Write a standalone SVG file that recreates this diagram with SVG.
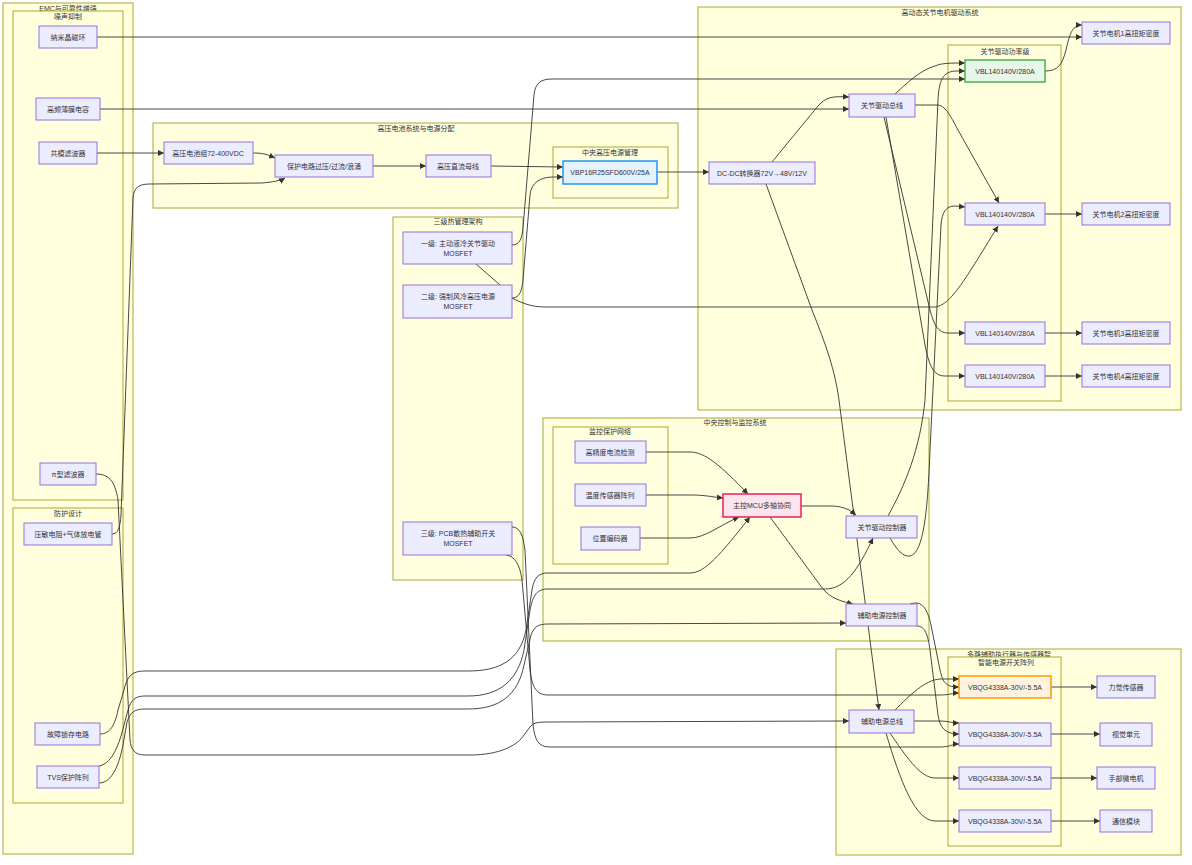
<svg xmlns="http://www.w3.org/2000/svg" width="1192" height="865" viewBox="0 0 1192 865">
<style>
.cl{fill:#ffffde;stroke:#aaaa33;stroke-width:1}
.ct{font-family:"Liberation Sans","Noto Sans CJK SC",sans-serif;font-size:7px;fill:#333;text-anchor:middle}
.n{fill:#ECECFF;stroke:#9370DB;stroke-width:1}
.t{font-family:"Liberation Sans","Noto Sans CJK SC",sans-serif;font-size:7px;fill:#333;text-anchor:middle;dominant-baseline:central}
.e{fill:none;stroke:#333;stroke-width:0.9;marker-end:url(#ah)}
.e0{fill:none;stroke:#333;stroke-width:0.9}
</style>
<defs>
<marker id="ah" markerUnits="userSpaceOnUse" markerWidth="6" markerHeight="6" refX="6" refY="3" orient="auto">
<path d="M0,0 L6,3 L0,6 z" fill="#333"/>
</marker>
</defs>
<rect width="1192" height="865" fill="#fff"/>
<g id="clusters">
<rect class="cl" x="3" y="3" width="130" height="851"/>
<text class="ct" x="68" y="10.5">EMC与可靠性增强</text>
<rect class="cl" x="13" y="11" width="110" height="489"/>
<text class="ct" x="68" y="18.5">噪声抑制</text>
<rect class="cl" x="13" y="508" width="110" height="295"/>
<text class="ct" x="68" y="515.5">防护设计</text>
<rect class="cl" x="153" y="123" width="525" height="85"/>
<text class="ct" x="416" y="130.5">高压电池系统与电源分配</text>
<rect class="cl" x="553" y="147" width="115" height="51"/>
<text class="ct" x="610" y="154.5">中央高压电源管理</text>
<rect class="cl" x="393" y="217" width="130" height="363"/>
<text class="ct" x="458" y="223.5">三级热管理架构</text>
<rect class="cl" x="698" y="7" width="483" height="403"/>
<text class="ct" x="940" y="14.5">高动态关节电机驱动系统</text>
<rect class="cl" x="948" y="45" width="113" height="356"/>
<text class="ct" x="1005" y="53.5">关节驱动功率级</text>
<rect class="cl" x="543" y="418" width="386" height="223"/>
<text class="ct" x="735" y="424.5">中央控制与监控系统</text>
<rect class="cl" x="553" y="427" width="115" height="137"/>
<text class="ct" x="610" y="433.5">监控保护网络</text>
<rect class="cl" x="836" y="649" width="345" height="206"/>
<text class="ct" x="1009" y="656.5">多路辅助执行器与传感器智</text>
<rect class="cl" x="948" y="657" width="113" height="189"/>
<text class="ct" x="1006" y="664.5">智能电源开关阵列</text>
</g>
<g id="connectors">
<path class="e" d="M97,37 H1082"/>
<path class="e" d="M100,109 H849"/>
<path class="e" d="M97,153 H164"/>
<path class="e" d="M253,153 C265,153 268,155 275,158"/>
<path class="e" d="M112,534 C118,534 120,528 121,515 L133,198 C134,188 138,184 150,184 L262,183 C272,182 280,181 285,178"/>
<path class="e" d="M373,166 H426"/>
<path class="e" d="M491,166 L563,167"/>
<path class="e" d="M512,298 C520,298 522,290 523,280 L530,195 C531,183 540,177 553,177 L563,177"/>
<path class="e" d="M512,245 C520,245 522,238 523,228 L534,95 C535,84 540,79 552,79 L965,79"/>
<path class="e" d="M512,298 C520,302 530,307 545,307 L935,307 C950,305 962,285 998,226"/>
<path class="e0" d="M476,264 L500,285"/>
<path class="e" d="M657,172 H709"/>
<path class="e" d="M772,162 L818,106 C826,97 832,96 849,97"/>
<path class="e" d="M766,184 L812,310 C826,345 835,370 839,400 L879,710"/>
<path class="e" d="M895,94 C905,85 920,70 935,66 C942,63 950,63 965,63"/>
<path class="e" d="M915,105 H937 C945,105 950,115 958,130 L999,203"/>
<path class="e" d="M884,117 L930,310 C934,325 938,333 948,333 L965,333"/>
<path class="e" d="M886,117 L925,345 C929,365 933,376 945,376 L965,376"/>
<path class="e" d="M888,516 C905,485 920,450 925,400 L938,100 C939,80 943,72 955,71 L965,71"/>
<path class="e" d="M890,538 C897,550 903,557 910,556 C925,553 928,500 930,450 L941,225 C942,212 946,206 955,206 L965,207"/>
<path class="e" d="M1045,71 C1058,71 1062,65 1066,50 C1070,32 1073,25 1082,25"/>
<path class="e" d="M1045,214 H1082"/>
<path class="e" d="M1045,333 H1082"/>
<path class="e" d="M1045,376 H1082"/>
<path class="e" d="M646,452 H690 C705,452 720,465 748,494"/>
<path class="e" d="M646,495 H692 C705,495 712,497 723,498"/>
<path class="e" d="M640,538 H690 C705,538 720,525 739,517"/>
<path class="e" d="M100,734 C110,734 115,725 118,710 L124,690 C127,676 132,671 145,671 L468,671 C500,671 520,660 526,630 L532,590 C534,578 538,573 548,573 L690,573 C705,573 720,555 750,517"/>
<path class="e" d="M99,766 C110,764 118,750 124,725 L128,710 C131,700 135,696 145,696 L468,696 C500,696 518,680 524,650 L530,610 C533,595 537,589 548,589 L825,589 C845,589 858,570 873,538"/>
<path class="e" d="M99,783 C110,783 118,770 123,745 L127,722 C130,712 135,709 145,709 L468,709 C500,709 518,695 524,665 L531,635 C534,627 538,624 548,624 L846,623"/>
<path class="e" d="M96,474 C108,474 115,480 118,500 L130,740 C131,750 135,755 145,755 L470,755 C500,755 518,745 524,735 L530,727 C533,723 537,722 548,722 L849,721"/>
<path class="e" d="M506,555 C515,556 520,565 522,580 L530,670 C532,688 537,695 548,695 L940,695 C950,695 952,693 959,693"/>
<path class="e" d="M512,527 C520,527 523,535 525,550 L533,725 C535,740 538,747 550,747 L940,747 C950,747 952,744 959,744"/>
<path class="e" d="M801,506 H830 C840,506 848,508 856,515"/>
<path class="e" d="M770,517 L820,585 C828,596 835,600 853,604"/>
<path class="e" d="M910,604 C922,600 928,608 932,630 L940,670 C943,684 947,687 959,687"/>
<path class="e" d="M917,626 C925,626 928,635 930,650 L938,715 C940,728 945,734 959,734"/>
<path class="e" d="M895,710 C910,695 925,680 940,679 L959,679"/>
<path class="e" d="M914,721 L940,721 C948,721 952,723 959,723"/>
<path class="e" d="M890,733 C905,755 920,778 935,778 L959,778"/>
<path class="e" d="M886,733 C900,780 915,821 935,821 L959,821"/>
<path class="e" d="M1051,687 H1097"/>
<path class="e" d="M1051,734 H1100"/>
<path class="e" d="M1051,778 H1097"/>
<path class="e" d="M1051,821 H1100"/>
</g>
<g id="n-nano"><rect class="n" x="39" y="26" width="58" height="22"/><text class="t" x="68" y="37">纳米晶磁环</text></g>
<g id="n-cap"><rect class="n" x="36" y="98" width="64" height="22"/><text class="t" x="68" y="109">高频薄膜电容</text></g>
<g id="n-cm"><rect class="n" x="39" y="142" width="58" height="22"/><text class="t" x="68" y="153">共模滤波器</text></g>
<g id="n-pi"><rect class="n" x="40" y="463" width="56" height="22"/><text class="t" x="68" y="474">π型滤波器</text></g>
<g id="n-mov"><rect class="n" x="24" y="523" width="88" height="22"/><text class="t" x="68" y="534">压敏电阻+气体放电管</text></g>
<g id="n-latch"><rect class="n" x="35" y="723" width="65" height="22"/><text class="t" x="68" y="734">故障锁存电路</text></g>
<g id="n-tvs"><rect class="n" x="37" y="766" width="62" height="22"/><text class="t" x="68" y="777">TVS保护阵列</text></g>
<g id="n-bat"><rect class="n" x="164" y="142" width="89" height="22"/><text class="t" x="208" y="153">高压电池组72-400VDC</text></g>
<g id="n-prot"><rect class="n" x="275" y="155" width="98" height="22"/><text class="t" x="324" y="166">保护电路过压/过流/浪涌</text></g>
<g id="n-dcbus"><rect class="n" x="426" y="155" width="65" height="22"/><text class="t" x="458" y="166">高压直流母线</text></g>
<g id="n-vbp"><rect x="563" y="161" width="94" height="23" fill="#e3f2fd" stroke="#2196f3" stroke-width="1.5"/><text class="t" x="610" y="172.5">VBP16R25SFD600V/25A</text></g>
<g id="n-l1"><rect class="n" x="403" y="232" width="109" height="32"/><text class="t" x="458" y="243">一级: 主动液冷关节驱动</text><text class="t" x="458" y="253">MOSFET</text></g>
<g id="n-l2"><rect class="n" x="403" y="285" width="109" height="33"/><text class="t" x="458" y="296">二级: 强制风冷高压电源</text><text class="t" x="458" y="306">MOSFET</text></g>
<g id="n-l3"><rect class="n" x="403" y="522" width="109" height="33"/><text class="t" x="458" y="533">三级: PCB散热辅助开关</text><text class="t" x="458" y="543">MOSFET</text></g>
<g id="n-dcdc"><rect class="n" x="709" y="162" width="106" height="22"/><text class="t" x="762" y="173">DC-DC转换器72V→48V/12V</text></g>
<g id="n-jbus"><rect class="n" x="849" y="94" width="66" height="23"/><text class="t" x="882" y="105.5">关节驱动总线</text></g>
<g id="n-vbl1"><rect x="965" y="60" width="80" height="22" fill="#e8f5e9" stroke="#4caf50" stroke-width="1.5"/><text class="t" x="1005" y="71">VBL140140V/280A</text></g>
<g id="n-vbl2"><rect class="n" x="965" y="203" width="80" height="22"/><text class="t" x="1005" y="214">VBL140140V/280A</text></g>
<g id="n-vbl3"><rect class="n" x="965" y="322" width="80" height="22"/><text class="t" x="1005" y="333">VBL140140V/280A</text></g>
<g id="n-vbl4"><rect class="n" x="965" y="365" width="80" height="22"/><text class="t" x="1005" y="376">VBL140140V/280A</text></g>
<g id="n-m1"><rect class="n" x="1082" y="22" width="88" height="22"/><text class="t" x="1126" y="33">关节电机1高扭矩密度</text></g>
<g id="n-m2"><rect class="n" x="1082" y="203" width="88" height="22"/><text class="t" x="1126" y="214">关节电机2高扭矩密度</text></g>
<g id="n-m3"><rect class="n" x="1082" y="322" width="88" height="22"/><text class="t" x="1126" y="333">关节电机3高扭矩密度</text></g>
<g id="n-m4"><rect class="n" x="1082" y="365" width="88" height="22"/><text class="t" x="1126" y="376">关节电机4高扭矩密度</text></g>
<g id="n-cur"><rect class="n" x="575" y="441" width="71" height="22"/><text class="t" x="610" y="452">高精度电流检测</text></g>
<g id="n-temp"><rect class="n" x="575" y="484" width="71" height="22"/><text class="t" x="610" y="495">温度传感器阵列</text></g>
<g id="n-enc"><rect class="n" x="581" y="527" width="59" height="23"/><text class="t" x="610" y="538.5">位置编码器</text></g>
<g id="n-mcu"><rect x="723" y="494" width="78" height="23" fill="#fce4ec" stroke="#e91e63" stroke-width="1.5"/><text class="t" x="762" y="505.5">主控MCU多轴协同</text></g>
<g id="n-jctl"><rect class="n" x="846" y="516" width="71" height="22"/><text class="t" x="882" y="527">关节驱动控制器</text></g>
<g id="n-actl"><rect class="n" x="846" y="604" width="71" height="22"/><text class="t" x="882" y="615">辅助电源控制器</text></g>
<g id="n-abus"><rect class="n" x="849" y="710" width="65" height="23"/><text class="t" x="882" y="721.5">辅助电源总线</text></g>
<g id="n-q1"><rect x="959" y="676" width="92" height="22" fill="#fff3e0" stroke="#ff9800" stroke-width="1.5"/><text class="t" x="1005" y="687">VBQG4338A-30V/-5.5A</text></g>
<g id="n-q2"><rect class="n" x="959" y="723" width="92" height="23"/><text class="t" x="1005" y="734.5">VBQG4338A-30V/-5.5A</text></g>
<g id="n-q3"><rect class="n" x="959" y="767" width="92" height="22"/><text class="t" x="1005" y="778">VBQG4338A-30V/-5.5A</text></g>
<g id="n-q4"><rect class="n" x="959" y="810" width="92" height="22"/><text class="t" x="1005" y="821">VBQG4338A-30V/-5.5A</text></g>
<g id="n-force"><rect class="n" x="1097" y="676" width="58" height="22"/><text class="t" x="1126" y="687">力觉传感器</text></g>
<g id="n-vis"><rect class="n" x="1100" y="723" width="52" height="23"/><text class="t" x="1126" y="734.5">视觉单元</text></g>
<g id="n-hand"><rect class="n" x="1097" y="767" width="58" height="22"/><text class="t" x="1126" y="778">手部微电机</text></g>
<g id="n-comm"><rect class="n" x="1100" y="810" width="52" height="22"/><text class="t" x="1126" y="821">通信模块</text></g>
</svg>
